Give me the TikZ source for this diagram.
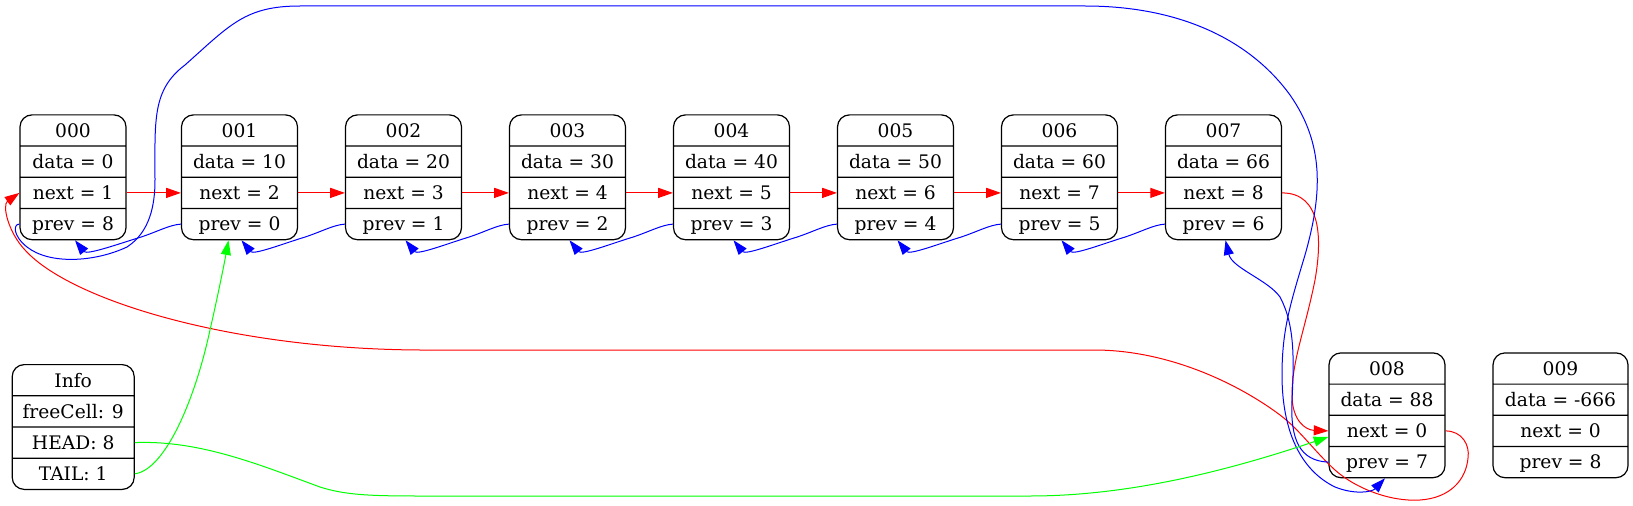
\documentclass[tikz,border=0pt]{standalone}
\usepackage{fontspec}
\setmainfont{DejaVu Serif}
\usetikzlibrary{shapes.multipart,arrows.meta,calc}
\newcommand{\rowstrut}{\rule[-6.1pt]{0pt}{22.5pt}}
\newcommand{\cellrows}[4]{\rowstrut#1\nodepart{two}\rowstrut#2\nodepart{three}\rowstrut#3\nodepart{four}\rowstrut#4}
\tikzset{
  cell/.style={rectangle split, rectangle split parts=4, draw, line width=0.9pt,
    rounded corners=9pt, minimum width=87pt, inner xsep=3pt, inner ysep=0pt,
    font=\fontsize{14}{17}\selectfont},
  link/.style={line width=0.75pt, -{Triangle[length=11pt,width=7.5pt]}},
  nextlink/.style={link, red},
  prevlink/.style={link, blue},
  infolink/.style={link, green},
}
\begin{document}
\begin{tikzpicture}[x=0.75pt,y=0.75pt]
  \useasboundingbox (0,0) rectangle (1633,-506);
  % memory cells
  \node[cell,minimum width=79.5pt] (C0) at (73,-177.3) {\cellrows{000}{data = 0}{next = 1}{prev = 8}};
  \foreach \d [count=\i] in {10,20,30,40,50,60,66}{
    \pgfmathtruncatemacro{\nxt}{\i+1}
    \pgfmathtruncatemacro{\prv}{\i-1}
    \node[cell] (C\i) at ({239.5+164*(\i-1)},-177.3) {\cellrows{00\i}{data = \d}{next = \nxt}{prev = \prv}};
  }
  \node[cell] (C8) at (1387,-415.3) {\cellrows{008}{data = 88}{next = 0}{prev = 7}};
  \node[cell,minimum width=101.25pt] (C9) at (1560.5,-415.3) {\cellrows{009}{data = -666}{next = 0}{prev = 8}};
  \node[cell,minimum width=91.5pt] (I) at (73.2,-427) {\cellrows{Info}{freeCell: 9}{HEAD: 8}{TAIL: 1}};
  % next links
  \foreach \i [evaluate=\i as \j using int(\i+1)] in {0,...,6}
    \draw[nextlink] (C\i.three east) -- (C\j.three west);
  \draw[nextlink] (C7.three east) .. controls (1322,-193) and (1322,-240) .. (1315,-280)
    .. controls (1305,-330) and (1292,-360) .. (1292,-395)
    .. controls (1292,-420) and (1305,-430) .. (C8.three west);
  \draw[nextlink] (C8.three east) .. controls (1462,-431) and (1470,-445) .. (1468,-458)
    .. controls (1466,-480) and (1450,-498) .. (1420,-500)
    .. controls (1390,-502) and (1355,-488) .. (1335,-470)
    .. controls (1315,-452) and (1300,-430) .. (1280,-415)
    .. controls (1240,-385) and (1170,-350) .. (1094,-350) -- (420,-350)
    .. controls (230,-349) and (70,-300) .. (25,-250)
    .. controls (8,-232) and (2,-205) .. (C0.three west);
  % prev links
  \foreach \i [evaluate=\i as \j using int(\i-1)] in {1,...,7}
    \draw[prevlink] (C\i.four west) .. controls ($(C\i.four west)+(-12,-1)$) and ($(C\i.four west)+(-22,-7)$) .. ($(C\i.four west)+(-40,-13)$)
      .. controls ($(C\i.four west)+(-60,-19)$) and ($(C\j.south)+(14,-15)$) .. ($(C\j.south)+(2,0)$);
  \draw[prevlink] (C0.four west) .. controls (13,-224) and (13,-236) .. (27,-247)
    .. controls (50,-265) and (95,-262) .. (127,-247)
    .. controls (150,-232) and (155,-205) .. (155,-180)
    .. controls (155,-120) and (152,-90) .. (185,-65)
    .. controls (230,-25) and (245,-6) .. (300,-6) -- (1085,-6)
    .. controls (1180,-6) and (1250,-40) .. (1290,-95)
    .. controls (1325,-145) and (1322,-195) .. (1305,-255)
    .. controls (1290,-305) and (1282,-330) .. (1282,-375)
    .. controls (1282,-430) and (1300,-470) .. (1335,-487)
    .. controls (1355,-495) and (1372,-492) .. ($(C8.south)+(-2,0)$);
  \draw[prevlink] (C8.four west) .. controls (1300,-461) and (1290,-440) .. (1292,-400)
    .. controls (1294,-360) and (1295,-325) .. (1280,-297)
    .. controls (1268,-280) and (1232,-268) .. ($(C7.south)+(2,0)$);
  % info links
  \draw[infolink] (I.four east) .. controls (165,-470) and (195,-400) .. (210,-330)
    .. controls (218,-295) and (224,-265) .. ($(C1.south)+(-11,0)$);
  \draw[infolink] (I.three east) .. controls (200,-440) and (260,-465) .. (320,-487)
    .. controls (345,-495) and (370,-496) .. (420,-496) -- (1030,-496)
    .. controls (1130,-496) and (1230,-470) .. ($(C8.three west)+(0,-6)$);
\end{tikzpicture}
\end{document}
